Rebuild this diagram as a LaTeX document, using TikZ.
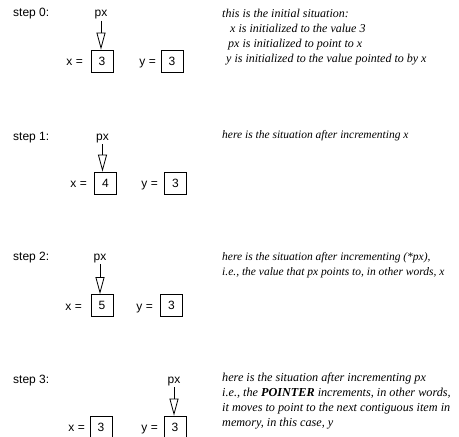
\documentclass[tikz,border=0pt]{standalone}
\usepackage{fontspec}
\setmainfont{Liberation Sans}
\newfontfamily\notefont{Liberation Serif}
\usetikzlibrary{arrows.meta}
\begin{document}
\begin{tikzpicture}[x=1pt, y=-1pt,
	lbl/.style={inner sep=0pt, font=\fontsize{12}{14}\selectfont},
	cell/.style={draw=black, line width=0.8pt, minimum size=22pt, inner sep=0pt, font=\fontsize{12}{14}\selectfont},
	note/.style={inner sep=0pt, anchor=north west, align=left, font=\notefont\itshape\fontsize{#1}{15}\selectfont},
	note/.default=11.5,
	ptr/.style={draw=black, line width=0.8pt, -{Triangle[open, length=17pt, width=9pt, line width=0.8pt]}}]
	\useasboundingbox (0,0) rectangle (459,437);
	\node[lbl, anchor=base west] (step0) at (13,16.5) {step 0:};
	\node[lbl, anchor=base] (px0) at (101,16.5) {px};
	\node[cell] (xv0) at (102,61) {3};
	\node[cell] (yv0) at (172,61) {3};
	\node[lbl, anchor=base east] (xeq0) at (83,65.5) {x =};
	\node[lbl, anchor=base east] (yeq0) at (156,65.5) {y =};
	\draw[ptr] ([yshift=-1.5pt]px0.south) -- (px0.south |- xv0.north);
	\node[note=12] (note0) at (222,9) {this is the initial situation:\\
		\hspace*{8pt}x is initialized to the value 3\\
		\hspace*{6pt}px is initialized to point to x\\
		\hspace*{4pt}y is initialized to the value pointed to by x};
	\node[lbl, anchor=base west] (step1) at (13,140) {step 1:};
	\node[lbl, anchor=base] (px1) at (102.5,140) {px};
	\node[cell] (xv1) at (105.5,183) {4};
	\node[cell] (yv1) at (175.5,183) {3};
	\node[lbl, anchor=base east] (xeq1) at (87,187.5) {x =};
	\node[lbl, anchor=base east] (yeq1) at (158,187.5) {y =};
	\draw[ptr] ([yshift=-1.5pt]px1.south) -- (px1.south |- xv1.north);
	\node[note] (note1) at (222,130.5) {here is the situation after incrementing x};
	\node[lbl, anchor=base west] (step2) at (13,260) {step 2:};
	\node[lbl, anchor=base] (px2) at (100,260) {px};
	\node[cell] (xv2) at (102,305.5) {5};
	\node[cell] (yv2) at (171.5,305.5) {3};
	\node[lbl, anchor=base east] (xeq2) at (82,310) {x =};
	\node[lbl, anchor=base east] (yeq2) at (153,310) {y =};
	\draw[ptr] ([yshift=-1.5pt]px2.south) -- (px2.south |- xv2.north);
	\node[note] (note2) at (222,252) {here is the situation after incrementing (*px),\\
		i.e., the value that px points to, in other words, x};
	\node[lbl, anchor=base west] (step3) at (13,383) {step 3:};
	\node[lbl, anchor=base] (px3) at (174,383) {px};
	\node[cell] (xv3) at (101,427) {3};
	\node[cell] (yv3) at (175,427) {3};
	\node[lbl, anchor=base east] (xeq3) at (85,431.5) {x =};
	\node[lbl, anchor=base east] (yeq3) at (158,431.5) {y =};
	\draw[ptr] ([yshift=-1.5pt]px3.south) -- (px3.south |- yv3.north);
	\node[note=12.2] (note3) at (222,373) {here is the situation after incrementing px\\
		i.e., the \textbf{POINTER} increments, in other words,\\
		it moves to point to the next contiguous item in\\
		memory, in this case, y};
\end{tikzpicture}
\end{document}
